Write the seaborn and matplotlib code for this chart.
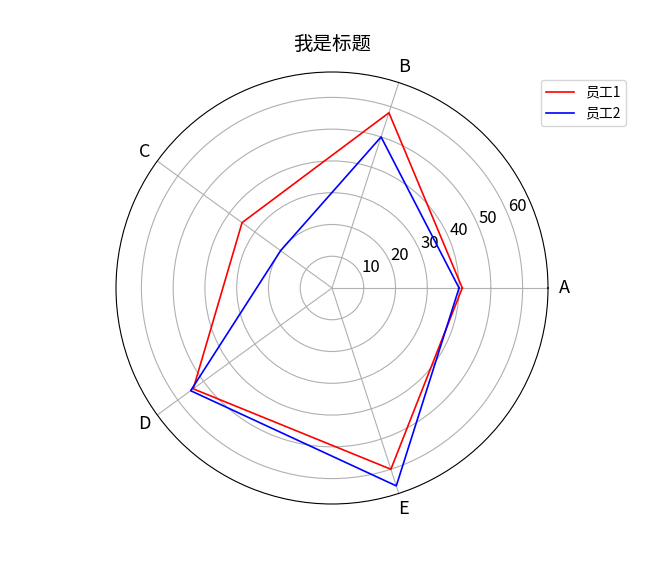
import numpy as np
import pandas as pd
import matplotlib
matplotlib.use("Agg")
import matplotlib.pyplot as plt
import seaborn as sns

plt.rcParams['font.family'] = ['Noto Sans CJK SC', 'DejaVu Sans']
plt.rcParams['axes.unicode_minus'] = False

labels = ["A", "B", "C", "D", "E"]
worker1 = [41, 58, 35, 54, 60]
worker2 = [40, 50, 20, 55, 65.5]
names = ["员工1", "员工2"]
rticks = [10, 20, 30, 40, 50, 60]

angles = np.linspace(0, 2 * np.pi, len(labels), endpoint=False)

rows = []
for name, vals in zip(names, [worker1, worker2]):
    for a, v in zip(list(angles) + [2 * np.pi], vals + vals[:1]):
        rows.append({"theta": a, "r": v, "name": name})
df = pd.DataFrame(rows)

fig = plt.figure(figsize=(6.48, 5.76), dpi=100)
ax = fig.add_axes([0.179, 0.125, 0.6667, 0.75], projection="polar")

sns.lineplot(data=df, x="theta", y="r", hue="name", palette=["red", "blue"],
             sort=False, linewidth=1.2, ax=ax, legend=True)

ax.set_thetagrids(np.degrees(angles), labels, fontsize=13)
ax.set_rgrids(rticks, fontsize=12)
ax.set_ylim(0, 68)
ax.set_xlabel("")
ax.set_ylabel("")
ax.tick_params(axis="x", pad=1)

ax.set_title("我是标题", fontsize=14, y=1.03)

handles, lbls = ax.get_legend_handles_labels()
ax.legend_.remove()
fig.legend(handles, lbls, loc="upper right", bbox_to_anchor=(0.977, 0.873), fontsize=10)

plt.savefig("out.png")
